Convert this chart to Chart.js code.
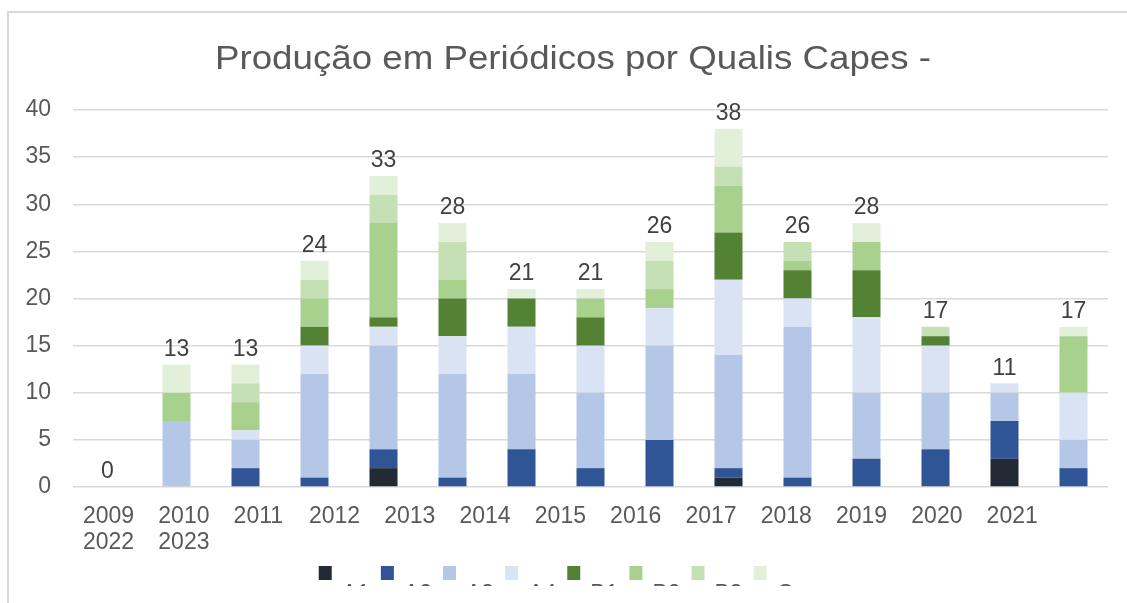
<!DOCTYPE html>
<html>
<head>
<meta charset="utf-8">
<script src="https://cdn.jsdelivr.net/npm/chart.js@4"></script>
<style>
  body { margin: 0; overflow: hidden; background: #fff; }
  #moldura { position: absolute; left: 7px; top: 11px; width: 1300px; height: 700px;
             border-top: 2px solid #d9d9d9; border-left: 2px solid #d9d9d9; }
  #grafico { position: absolute; left: 0; top: 0; }
</style>
</head>
<body>
<div id="moldura"></div>
<canvas id="grafico" width="1127" height="587"></canvas>
<script>
// dados
const titulo = 'Produção em Periódicos por Qualis Capes -';
const anos = ['2009','2010','2011','2012','2013','2014','2015','2016','2017','2018','2019','2020','2021','2022','2023'];
const estratos = ['A1','A2','A3','A4','B1','B2','B3','C'];
const a1 = [0,0,0,0,2,0,0,0,0,1,0,0,0,3,0];
const a2 = [0,0,2,1,2,1,4,2,5,1,1,3,4,4,2];
const a3 = [0,7,3,11,11,11,8,8,10,12,16,7,6,3,3];
const a4 = [0,0,1,3,2,4,5,5,4,8,3,8,5,1,5];
const b1 = [0,0,0,2,1,4,3,3,0,5,3,5,1,0,0];
const b2 = [0,3,3,3,10,2,0,2,2,5,1,3,0,0,6];
const b3 = [0,0,2,2,3,4,0,0,3,2,2,0,1,0,0];
const c  = [0,3,2,2,2,2,1,1,2,4,0,2,0,0,1];
const yMax = 40, yPasso = 5;

const cores = ['#222a35','#2f5597','#b4c7e7','#dae3f3','#548235','#a9d18e','#c5e0b4','#e2f0d9'];
const series = [a1, a2, a3, a4, b1, b2, b3, c];
const fonte = '"Liberation Sans", Arial, sans-serif';

// titulo do grafico (um pouco esticado na horizontal, como no original)
const pluginTitulo = {
  id: 'titulo',
  afterDraw(chart) {
    const g = chart.ctx;
    g.save();
    g.font = '33px ' + fonte;
    g.fillStyle = '#595959';
    g.textAlign = 'center';
    g.textBaseline = 'alphabetic';
    const esc = 716 / g.measureText(titulo).width;
    g.translate(573, 69);
    g.scale(esc, 1);
    g.fillText(titulo, 0, 0);
    g.restore();
  }
};

// total em cima de cada barra
const pluginTotais = {
  id: 'totais',
  afterDatasetsDraw(chart) {
    const g = chart.ctx;
    g.save();
    g.font = '23px ' + fonte;
    g.fillStyle = '#404040';
    g.textAlign = 'center';
    g.textBaseline = 'middle';
    anos.forEach((ano, i) => {
      const total = series.reduce((s, arr) => s + arr[i], 0);
      const x = chart.scales.x.getPixelForValue(i);
      const y = chart.scales.y.getPixelForValue(total);
      g.fillText(String(total), x, y - 15);
    });
    g.restore();
  }
};

// rotulos do eixo x (quebrados em linhas como no original)
const pluginEixoX = {
  id: 'eixoX',
  afterDraw(chart) {
    const g = chart.ctx;
    const area = chart.chartArea;
    g.save();
    g.font = '23px ' + fonte;
    g.fillStyle = '#595959';
    g.textAlign = 'left';
    g.textBaseline = 'middle';
    const passo = 75.3;
    let x = area.left + 10, y = area.bottom + 30;
    anos.forEach(ano => {
      const w = g.measureText(ano).width;
      if (x + w > area.right) { x = area.left + 10; y += 26; }
      g.fillText(ano, x, y);
      x += passo;
    });
    g.restore();
  }
};

// legenda (texto cortado na borda de baixo)
const pluginLegenda = {
  id: 'legenda',
  afterDraw(chart) {
    const g = chart.ctx;
    g.save();
    g.font = '23px ' + fonte;
    const caixa = 13, espaco = 10, folga = 11;
    const larguras = estratos.map(t => caixa + espaco + g.measureText(t).width);
    const total = larguras.reduce((s, w) => s + w, 0) + folga * (estratos.length - 1);
    let x = 556 - total / 2;
    g.beginPath();
    g.rect(0, 0, chart.width, 586);
    g.clip();
    estratos.forEach((t, i) => {
      g.fillStyle = cores[i];
      g.fillRect(x, 566, caixa, 14);
      g.fillStyle = '#595959';
      g.textBaseline = 'alphabetic';
      g.fillText(t, x + caixa + espaco, 601);
      x += larguras[i] + folga;
    });
    g.restore();
  }
};

const ctx = document.getElementById('grafico');
new Chart(ctx, {
  type: 'bar',
  data: {
    labels: anos,
    datasets: estratos.map((nome, i) => ({
      label: nome,
      data: series[i],
      backgroundColor: cores[i],
      borderWidth: 0,
      barPercentage: 0.406,
      categoryPercentage: 1
    }))
  },
  options: {
    responsive: false,
    animation: false,
    devicePixelRatio: 1,
    layout: { padding: { top: 110, right: 19, left: 0, bottom: 0 } },
    scales: {
      x: {
        stacked: true,
        grid: { display: false },
        border: { display: false },
        ticks: { display: false },
        afterFit(s) { s.height = 100; }
      },
      y: {
        stacked: true,
        min: 0,
        max: yMax,
        ticks: { stepSize: yPasso, padding: 22, color: '#595959', font: { family: fonte, size: 23 } },
        grid: { color: '#d9d9d9', lineWidth: 1.5, drawTicks: false },
        border: { display: false },
        afterFit(s) { s.width = 73; }
      }
    },
    plugins: {
      legend: { display: false },
      tooltip: { enabled: false }
    }
  },
  plugins: [pluginTitulo, pluginTotais, pluginEixoX, pluginLegenda]
});
</script>
</body>
</html>
